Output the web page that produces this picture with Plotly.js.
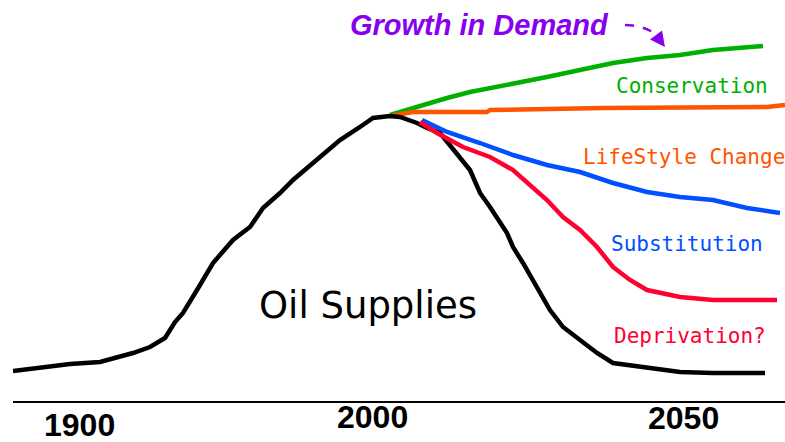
<!DOCTYPE html>
<html>
<head>
<meta charset="utf-8">
<script src="https://cdn.plot.ly/plotly-3.0.1.min.js"></script>
<style>html,body{margin:0;padding:0;background:#fff;}#chart{width:785px;height:442px;}</style>
</head>
<body>
<div id="chart"></div>
<script>
// Abstract time axis (schematic chart: not linear in years) and relative supply level
const supplyX = [13,50,70,100,133,150,165,175,183,197,213,233,250,263,280,293,317,340,360,373,390,400,417,427,440,457,470,480,490,507,513,523,537,550,563,580,597,613,647,680,713,765];
const supplyY = [30,34,37,39,48,54,63,79,88,111,138,161,174,193,208,221,241,261,274,283,285,284,278,273,268,248,231,208,194,168,154,138,114,91,74,61,48,38,34,29,28,28];

const conservationX = [390,413,430,447,470,497,523,547,580,613,647,680,713,763];
const conservationY = [286,293,298,303,309,314,319,324,331,338,343,346,351,355];

const lifestyleX = [390,413,487,490,603,767,785];
const lifestyleY = [285,289,289,291,293,294,296];

const substitutionX = [422,447,480,513,547,580,613,647,680,713,747,780];
const substitutionY = [281,269,258,246,236,229,218,209,204,201,193,188];

const deprivationX = [420,437,463,490,513,530,547,563,580,597,613,630,647,680,713,777];
const deprivationY = [279,268,254,244,231,216,201,184,171,154,134,121,111,104,101,101];

const tickVals = [79,372,683];
const tickText = ['1900','2000','2050'];

const seriesNames = ['Oil Supplies','Conservation','LifeStyle Change','Substitution','Deprivation?'];
const seriesColors = ['#000000','#00b000','#ff5500','#0050ff','#ff0030'];

const xs = [supplyX, conservationX, lifestyleX, substitutionX, deprivationX];
const ys = [supplyY, conservationY, lifestyleY, substitutionY, deprivationY];

const order = [1,2,0,3,4];
const traces = order.map(i => ({
  x: xs[i], y: ys[i], type: 'scatter', mode: 'lines', name: seriesNames[i],
  line: {color: seriesColors[i], width: 4.5}, hoverinfo: 'skip'
}));

const monoFont = (c) => ({family: 'DejaVu Sans Mono', size: 21, color: c});

// vertical offset (px) of each year label's centre below the axis line
const tickLabelShift = [-24, -16, -17];
const tickAnnotations = tickText.map((t, i) => ({
  x: tickVals[i], y: 0, xref: 'x', yref: 'paper', yshift: tickLabelShift[i],
  text: '<b>' + t + '</b>', showarrow: false, yanchor: 'middle',
  font: {family: 'Liberation Sans', size: 32, color: '#000'}
}));

const layout = {
  width: 785, height: 442,
  margin: {l: 13, r: 0, t: 0, b: 41},
  paper_bgcolor: '#ffffff', plot_bgcolor: '#ffffff',
  showlegend: false,
  xaxis: {
    range: [13, 785], showgrid: false, zeroline: false,
    showline: true, linecolor: '#000', linewidth: 2,
    showticklabels: false, ticks: '', fixedrange: true
  },
  yaxis: {
    range: [0, 401], showgrid: false, zeroline: false, showline: false,
    showticklabels: false, ticks: '', fixedrange: true
  },
  annotations: tickAnnotations.concat([
    {x: 368, y: 401-305, xref: 'x', yref: 'y', text: 'Oil Supplies', showarrow: false,
     font: {family: 'DejaVu Sans', size: 37, color: '#000'}},
    {x: 479, y: 401-25, xref: 'x', yref: 'y', text: '<b><i>Growth in Demand</i></b>', showarrow: false,
     font: {family: 'Liberation Sans', size: 29, color: '#8800ee'}},
    {x: 692, y: 401-86, xref: 'x', yref: 'y', text: 'Conservation', showarrow: false, font: monoFont('#00b000')},
    {x: 684, y: 401-157, xref: 'x', yref: 'y', text: 'LifeStyle Change', showarrow: false, font: monoFont('#ff5500')},
    {x: 687, y: 401-244, xref: 'x', yref: 'y', text: 'Substitution', showarrow: false, font: monoFont('#0050ff')},
    {x: 690, y: 401-336, xref: 'x', yref: 'y', text: 'Deprivation?', showarrow: false, font: monoFont('#ff0030')},
    {x: 665, y: 401-47, xref: 'x', yref: 'y', ax: 656, ay: 401-35, axref: 'x', ayref: 'y',
     text: '', showarrow: true, arrowhead: 2, arrowsize: 1, arrowwidth: 3, arrowcolor: '#8800ee'}
  ]),
  shapes: [
    {type: 'path', xref: 'x', yref: 'y', path: 'M 625 ' + (401-25) + ' Q 648 ' + (401-26) + ' 657 ' + (401-36),
     line: {color: '#8800ee', width: 2.5, dash: 'dash'}}
  ]
};

Plotly.newPlot('chart', traces, layout, {displayModeBar: false, staticPlot: true});
</script>
</body>
</html>
